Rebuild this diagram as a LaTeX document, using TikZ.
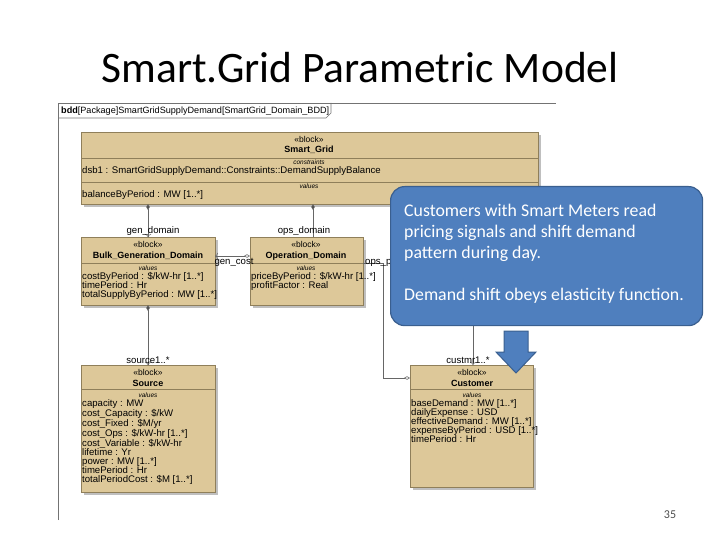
\documentclass[tikz,border=0pt]{standalone}
\usepackage{fontspec}
\setmainfont{Liberation Sans}
\newfontfamily\calfont{Carlito}
\newfontfamily\dfont{Liberation Sans}
\usetikzlibrary{arrows.meta,shapes.geometric}
\definecolor{tan}{HTML}{DDC899}
\definecolor{tanb}{HTML}{8F7F5A}
\definecolor{cblue}{HTML}{4F7FBE}
\definecolor{cbord}{HTML}{3A5F8F}
\tikzset{
 blk/.style={draw=tanb,fill=tan,anchor=north west,inner sep=0pt},
 sh/.style={fill=black!25},
 st/.style={font=\dfont\fontsize{8.5}{9}\selectfont,inner sep=0pt},
 nm/.style={font=\dfont\fontsize{9}{9}\selectfont\bfseries,inner sep=0pt},
 cp/.style={font=\dfont\fontsize{6.5}{7}\selectfont\itshape,inner sep=0pt},
 attr/.style={font=\dfont\fontsize{9.6}{9}\selectfont,inner sep=0pt,anchor=north west,align=left},
 lab/.style={font=\dfont\fontsize{9.6}{9}\selectfont,inner sep=0pt},
 cn/.style={draw=black!60,line width=0.6pt},
 dia/.style={-{Diamond[length=6pt,width=3.5pt,fill=black!70]}},
 odia/.style={-{Diamond[open,length=6pt,width=3.5pt]}},
}
\begin{document}
\begin{tikzpicture}[x=1pt,y=-1pt]
\useasboundingbox (0,0) rectangle (720,540);
\node[font=\calfont\fontsize{43.5}{46}\selectfont,inner sep=0pt] (title) at (360,68) {Smart.Grid Parametric Model};
% frame
\draw[black!55,line width=0.6pt] (58,520) -- (58,103) -- (556,103);
\draw[black!55,line width=0.6pt] (58,118) -- (326,118) -- (331,113) -- (331,103);
\node[font=\dfont\fontsize{9.1}{9}\selectfont,anchor=west,inner sep=0pt] (hdr) at (61,111) {\textbf{bdd}[Package]SmartGridSupplyDemand[SmartGrid\_Domain\_BDD]};
% shadows
\foreach \a/\b/\c/\d in {81/132/538/204, 81/237/215/305, 250/237/363/305, 81/365/215/492, 410/365/533/487}
 \fill[sh] (\a+3,\b+3) rectangle (\c+3,\d+3);
% Smart_Grid
\node[blk,minimum width=457pt,minimum height=72pt] (sg) at (81,132) {};
\draw[tanb] (81,158) -- (538,158) (81,182) -- (538,182);
\node[st] (sg1) at (309,139) {«block»};
\node[nm] (sg2) at (309,150) {Smart\_Grid};
\node[cp] (sg3) at (309,162) {constraints};
\node[attr] (sg4) at (82,166) {dsb1 : SmartGridSupplyDemand::Constraints::DemandSupplyBalance};
\node[cp] (sg5) at (309,186) {values};
\node[attr] (sg6) at (82,190) {balanceByPeriod : MW [1..*]};
% Bulk
\node[blk,minimum width=134pt,minimum height=68pt] (bg) at (81,237) {};
\draw[tanb] (81,263) -- (215,263);
\node[st] (bg1) at (148,244) {«block»};
\node[nm] (bg2) at (148,256) {Bulk\_Generation\_Domain};
\node[cp] (bg3) at (148,268) {values};
\node[attr] (bg4) at (82,272) {costByPeriod : \$/kW-hr [1..*]\\timePeriod : Hr\\totalSupplyByPeriod : MW [1..*]};
% Operation
\node[blk,minimum width=113pt,minimum height=68pt] (od) at (250,237) {};
\draw[tanb] (250,263) -- (363,263);
\node[st] (od1) at (306,244) {«block»};
\node[nm] (od2) at (306,256) {Operation\_Domain};
\node[cp] (od3) at (306,268) {values};
\node[attr] (od4) at (251,272) {priceByPeriod : \$/kW-hr [1..*]\\profitFactor : Real};
% Source
\node[blk,minimum width=134pt,minimum height=127pt] (src) at (81,365) {};
\draw[tanb] (81,389) -- (215,389);
\node[st] (s1) at (148,372) {«block»};
\node[nm] (s2) at (148,383) {Source};
\node[cp] (s3) at (148,395) {values};
\node[attr] (s4) at (82,399) {capacity : MW\\cost\_Capacity : \$/kW\\cost\_Fixed : \$M/yr\\cost\_Ops : \$/kW-hr [1..*]\\cost\_Variable : \$/kW-hr\\lifetime : Yr\\power : MW [1..*]\\timePeriod : Hr\\totalPeriodCost : \$M [1..*]};
% Customer
\node[blk,minimum width=123pt,minimum height=122pt] (cu) at (410,365) {};
\draw[tanb] (410,389) -- (533,389);
\node[st] (c1) at (472,372) {«block»};
\node[nm] (c2) at (472,383) {Customer};
\node[cp] (c3) at (472,395) {values};
\node[attr] (c4) at (411,399) {baseDemand : MW [1..*]\\dailyExpense : USD\\effectiveDemand : MW [1..*]\\expenseByPeriod : USD [1..*]\\timePeriod : Hr};
% connectors
\coordinate (p1) at (148,237); \coordinate (p1t) at (148,204);
\draw[cn,dia] (p1) -- (p1t);
\draw[cn,-{To[length=3pt]}] (148,214) -- (p1);
\node[lab,anchor=south] (l1) at (153,236) {gen\_domain};
\coordinate (p2) at (313,237); \coordinate (p2t) at (313,204);
\draw[cn,dia] (p2) -- (p2t);
\node[lab,anchor=south] (l2) at (304,236) {ops\_domain};
\coordinate (g1) at (215,256); \coordinate (g2) at (250,256);
\draw[cn,odia] (g1) -- (g2);
\draw[cn,-{To[length=3pt]}] (235,256) -- (g1);
\node[lab,anchor=south] (l3) at (234,267) {gen\_cost};
\coordinate (s1a) at (148,305); \coordinate (s1b) at (148,365);
\draw[cn,dia] (s1b) -- (s1a);
\draw[cn,-{To[length=3pt]}] (148,355) -- (s1b);
\node[lab,anchor=south] (l4) at (148,364) {source1..*};
\coordinate (o1) at (363,263); \coordinate (o2) at (383,263); \coordinate (o3) at (383,378); \coordinate (o4) at (410,378);
\draw[cn,odia] (o1) -- (o2) -- (o3) -- (o4);
\node[lab,anchor=south west] (l5) at (365,267) {ops\_p};
\coordinate (cm1) at (473,320); \coordinate (cm2) at (473,365);
\draw[cn,-{To[length=3pt]}] (cm1) -- (cm2);
\node[lab,anchor=south] (l6) at (468,364) {custmr1..*};
% callout
\node[draw=cbord,line width=1.2pt,fill=cblue,rounded corners=14pt,anchor=north west,minimum width=312pt,minimum height=139pt] (call) at (390,186) {};
\node[font=\calfont\fontsize{17.8}{21}\selectfont,text=white,anchor=north west,align=left,inner sep=0pt] (ctext) at (404,204) {Customers with Smart Meters read\\pricing signals and shift demand\\pattern during day.\\[21pt]Demand shift obeys elasticity function.};
% arrow
\fill[cblue,draw=cbord,line width=1pt] (504,331) -- (528,331) -- (528,352) -- (536,352) -- (516,373) -- (496,352) -- (504,352) -- cycle;
\node[font=\calfont\fontsize{12}{12}\selectfont,text=black!70,inner sep=0pt] (pg) at (670,515) {35};
\end{tikzpicture}
\end{document}
